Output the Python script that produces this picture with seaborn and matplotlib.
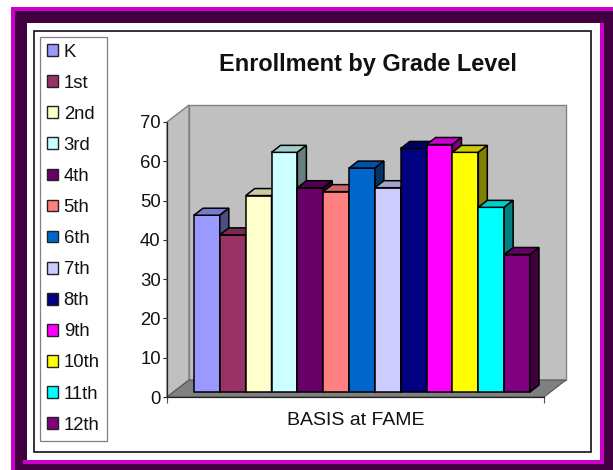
import pandas as pd
import matplotlib
matplotlib.use("Agg")
import matplotlib.pyplot as plt
import matplotlib.colors as mcolors
from matplotlib.patches import Polygon, Rectangle, Patch
from matplotlib.transforms import Affine2D
import seaborn as sns

# Values
grades = ["K", "1st", "2nd", "3rd", "4th", "5th", "6th", "7th", "8th", "9th", "10th", "11th", "12th"]
students = [45, 40, 50, 61, 52, 51, 57, 52, 62, 63, 61, 47, 35]
colors = ["#9999FF", "#993366", "#FFFFCC", "#CCFFFF", "#660066", "#FF8080", "#0066CC",
          "#CCCCFF", "#000080", "#FF00FF", "#FFFF00", "#00FFFF", "#800080"]
school = "BASIS at FAME"
y_ticks = [0, 10, 20, 30, 40, 50, 60, 70]

df = pd.DataFrame({"school": school, "grade": grades, "students": students})

W, H = 613, 470
MAGENTA = "#CC00CC"
DARK = "#400040"

sns.set_theme(style="white")
plt.rcParams["font.family"] = ["Liberation Sans", "DejaVu Sans"]
plt.rcParams["text.color"] = "#111111"

fig = plt.figure(figsize=(W / 100, H / 100), dpi=100, facecolor="white")


# Picture frame, given in pixels from the top left corner
def frame_rect(x0, y0, x1, y1, **kw):
    fig.patches.append(Rectangle((x0 / W, 1 - y1 / H), (x1 - x0) / W, (y1 - y0) / H,
                                 transform=fig.transFigure, figure=fig, zorder=-1, **kw))


frame_rect(11, 7, 613, 470, facecolor=MAGENTA, edgecolor="none")
frame_rect(15, 11, 613, 470, facecolor=DARK, edgecolor="none")
frame_rect(23, 460, 604, 464, facecolor=MAGENTA, edgecolor="none")
frame_rect(600, 23, 604, 464, facecolor=MAGENTA, edgecolor="none")
frame_rect(27, 23, 600, 460, facecolor="white", edgecolor="none")
frame_rect(34, 30.5, 591, 452, facecolor="white", edgecolor="#111111", linewidth=1.2)

ax = fig.add_axes([167 / W, 1 - 397 / H, 377 / W, 275 / H])
ax.patch.set_alpha(0)

sns.barplot(data=df, x="school", y="students", hue="grade", hue_order=grades,
            palette=colors, saturation=1, width=336 / 377, edgecolor="black",
            linewidth=1.1, legend=False, ax=ax)
ax.set_xlim(-0.5, 0.5)
ax.set_ylim(0, 70)

# Walls and floor of the 3D box
wall_dx, wall_dy = 22 / 377, 17 / 275
wall_edge = "#808080"
ax.add_patch(Polygon([(wall_dx, wall_dy), (1 + wall_dx, wall_dy), (1 + wall_dx, 1 + wall_dy), (wall_dx, 1 + wall_dy)],
                     transform=ax.transAxes, facecolor="#C0C0C0", edgecolor=wall_edge, linewidth=1, clip_on=False, zorder=0.5))
ax.add_patch(Polygon([(0, 0), (wall_dx, wall_dy), (wall_dx, 1 + wall_dy), (0, 1)],
                     transform=ax.transAxes, facecolor="#C0C0C0", edgecolor=wall_edge, linewidth=1, clip_on=False, zorder=0.6))
ax.add_patch(Polygon([(0, 0), (1, 0), (1 + wall_dx, wall_dy), (wall_dx, wall_dy)],
                     transform=ax.transAxes, facecolor="#808080", edgecolor="#555555", linewidth=0.8, clip_on=False, zorder=0.7))

# Bars sit part way back on the floor, and get top and side faces
bar_dx = 9 / 377
bar_dy = 7 * 70 / 275
for i, (bar, color) in enumerate(zip(list(ax.patches), colors)):
    trans = ax.transData + Affine2D().translate(6.5, 5)
    x0, x1 = bar.get_x(), bar.get_x() + bar.get_width()
    top = bar.get_height()
    rgb = mcolors.to_rgb(color)
    bar.set_transform(trans)
    bar.set_clip_on(False)
    bar.set_zorder(3 + i)
    top_face = Polygon([(x0, top), (x1, top), (x1 + bar_dx, top + bar_dy), (x0 + bar_dx, top + bar_dy)],
                       transform=trans, facecolor=[c * 0.8 for c in rgb], edgecolor="black", linewidth=1.1,
                       clip_on=False, zorder=3 + i)
    side_face = Polygon([(x1, 0), (x1 + bar_dx, bar_dy), (x1 + bar_dx, top + bar_dy), (x1, top)],
                        transform=trans, facecolor=[c * 0.5 for c in rgb], edgecolor="black", linewidth=1.1,
                        clip_on=False, zorder=3 + i)
    ax.add_patch(top_face)
    ax.add_patch(side_face)

# Axes
sns.despine(ax=ax, top=True, right=True)
for side in ["left", "bottom"]:
    ax.spines[side].set_color("#222222")
    ax.spines[side].set_linewidth(0.9)
    ax.spines[side].set_zorder(2)
ax.set_yticks(y_ticks)
ax.set_xticks([-0.5, 0.5], labels=["", ""])
ax.tick_params(axis="y", left=True, length=3, width=0.8, color="#222222", labelsize=13.3, pad=1.5, labelcolor="#111111")
ax.tick_params(axis="x", bottom=True, length=4.5, width=0.8, color="#555555")
ax.set_ylabel("")
ax.set_xlabel(school, fontsize=14, labelpad=2.5, color="#111111")

fig.text(368 / W, 1 - 64 / H, "Enrollment by Grade Level", fontsize=16.9, fontweight="bold",
         ha="center", va="center", color="#111111")

# Legend
handles = [Patch(facecolor=c, edgecolor="#222222", linewidth=1) for c in colors]
leg = ax.legend(handles, grades, loc="upper left", bbox_to_anchor=(40 / W, 1 - 36.5 / H),
                bbox_transform=fig.transFigure, fontsize=13.3, frameon=True, fancybox=False,
                framealpha=1, edgecolor="#808080", facecolor="white", borderaxespad=0,
                handlelength=0.6, handleheight=0.6, handletextpad=0.3,
                labelspacing=0.763, borderpad=0.38)
leg.set_zorder(50)
leg.get_frame().set_linewidth(0.9)

fig.savefig("out.png", dpi=100)
